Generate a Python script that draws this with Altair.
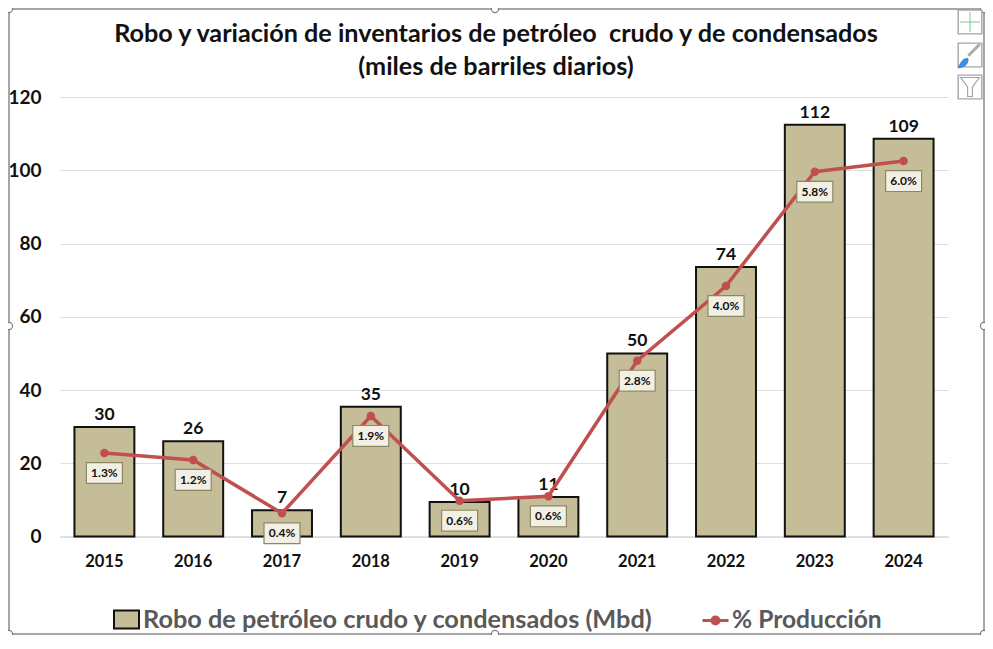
import altair as alt
import pandas as pd

years = ["2015","2016","2017","2018","2019","2020","2021","2022","2023","2024"]
robo = [29.9,26.0,7.2,35.4,9.4,10.8,50.0,73.6,112.4,108.6]
robo_labels = ["30","26","7","35","10","11","50","74","112","109"]
pct = [1.33,1.22,0.37,1.92,0.57,0.64,2.80,3.99,5.81,5.98]
pct_labels = ["1.3%","1.2%","0.4%","1.9%","0.6%","0.6%","2.8%","4.0%","5.8%","6.0%"]
title_lines = ["Robo y variación de inventarios de petróleo\u00a0 crudo y de condensados","(miles de barriles diarios)"]
bar_name = "Robo de petróleo crudo y condensados (Mbd)"
line_name = "% Producción"

FONT = "Lato"
df = pd.DataFrame({"year":years,"robo":robo,"rl":robo_labels,"pct":pct,"pl":pct_labels,"bn":bar_name,"ln":line_name})

x = alt.X("year:N", sort=years, title=None,
          scale=alt.Scale(paddingInner=0.325, paddingOuter=0.1625),
          axis=alt.Axis(labelAngle=0, labelFont=FONT, labelFontWeight="bold", labelFontSize=16.5,
                        labelColor="#111111", ticks=False, domainColor="#D9D9D9", domainWidth=1.5, labelPadding=17))
y = alt.Y("robo:Q", title=None, scale=alt.Scale(domain=[0,120]),
          axis=alt.Axis(values=[0,20,40,60,80,100,120], labelFont=FONT, labelFontWeight="bold", labelFontSize=19,
                        labelColor="#111111", ticks=False, domain=False, gridColor="#DEDEDE", gridWidth=1.2,
                        labelPadding=19))
y2 = alt.Y("pct:Q", title=None, axis=None, scale=alt.Scale(domain=[0,7]))

base = alt.Chart(df)
bars = base.mark_bar(stroke="#111111", strokeWidth=2).encode(
    x=x, y=y,
    fill=alt.Fill("bn:N", title=None, scale=alt.Scale(range=["#C4BD97"]),
                  legend=alt.Legend(orient="none", legendX=53, legendY=509, symbolType="M-1,-0.72H1V0.72H-1Z", symbolSize=625,
                                    symbolStrokeColor="#111111", symbolStrokeWidth=2, labelFont=FONT, labelFontWeight="bold",
                                    labelFontSize=25.3, labelColor="#595959", labelLimit=700, labelOffset=3)))
bar_text = base.mark_text(font=FONT, fontWeight="bold", fontSize=17.5, color="#111111", baseline="bottom", dy=-3).encode(
    x=x, y=y, text="rl:N")
left = alt.layer(bars, bar_text)

line = base.mark_line(strokeWidth=3.5, point=alt.OverlayMarkDef(filled=True, size=42, color="#C0504D")).encode(
    x=x, y=y2,
    stroke=alt.Stroke("ln:N", title=None, scale=alt.Scale(range=["#C0504D"]),
                      legend=alt.Legend(orient="none", legendX=641, legendY=509,
                                        symbolType="M-1,0H1M-0.27,0A0.27,0.27 0 1 1 0.27,0A0.27,0.27 0 1 1 -0.27,0Z",
                                        symbolStrokeWidth=3, symbolSize=676, symbolFillColor="#C0504D",
                                        labelFont=FONT, labelFontWeight="bold", labelFontSize=24.6, labelColor="#595959",
                                        labelLimit=300, labelOffset=2)))
box = base.mark_point(shape="M-1,-0.58H1V0.58H-1Z", size=1296, filled=True, fill="#F2EFE4", stroke="#8C8864",
                      strokeWidth=1.2, opacity=1, yOffset=20).encode(x=x, y=y2)
box_text = base.mark_text(font=FONT, fontWeight="bold", fontSize=12, color="#111111", dy=20).encode(x=x, y=y2, text="pl:N")
right = alt.layer(line, box, box_text)

deco_df = pd.DataFrame({"a":[0]})
deco = alt.Chart(deco_df)
FX0, FX1, FY0, FY1 = -51, 924, -88, 537
frame = deco.mark_rect(fillOpacity=0, stroke="#A6A6A6", strokeWidth=2).encode(
    x=alt.value(FX0), x2=alt.value(FX1), y=alt.value(FY0), y2=alt.value(FY1))

handles_xy = [(FX0,FY0),(435,FY0),(FX1,FY0),(FX0,229),(FX1,229),(FX0,FY1),(435,FY1),(FX1,FY1)]
handles = [deco.mark_point(shape="circle", size=50, filled=True, fill="white", stroke="#7F7F7F", strokeWidth=1.2, opacity=1)
           .encode(x=alt.value(a), y=alt.value(b)) for a,b in handles_xy]

btns = []
for cy in [-75,-42,-10]:
    btns.append(deco.mark_point(shape="square", size=560, filled=True, fill="white", stroke="#A6A6A6", strokeWidth=1.4, opacity=1)
                .encode(x=alt.value(910), y=alt.value(cy)))
plus = deco.mark_point(shape="M-1,0H1M0,-1V1", size=400, stroke="#3CB371", strokeWidth=1).encode(x=alt.value(910), y=alt.value(-75))
brush1 = deco.mark_point(shape="M-1,1L1,-1", size=130, stroke="#888888", strokeWidth=3).encode(x=alt.value(914), y=alt.value(-47))
brush2 = deco.mark_point(shape="M-1,1C-0.6,0 -0.2,-0.5 0.4,-0.4C0.7,0 0.2,1 -1,1Z", size=220, filled=True, fill="#3E8EDE", opacity=1).encode(x=alt.value(905), y=alt.value(-36))
funnel = deco.mark_point(shape="M-1,-1H1L0.25,0V1H-0.25V0Z", size=360, stroke="#777777", strokeWidth=1.1).encode(x=alt.value(910), y=alt.value(-10))

t1 = deco.mark_text(font=FONT, fontSize=25.2, fontWeight="bold", color="#111111").encode(
    x=alt.value(436), y=alt.value(-63), text=alt.value(title_lines[0]))
t2 = deco.mark_text(font=FONT, fontSize=25.2, fontWeight="bold", color="#111111").encode(
    x=alt.value(436), y=alt.value(-30), text=alt.value(title_lines[1]))

chart = alt.layer(
    alt.layer(left, right).resolve_scale(y="independent", color="independent"),
    frame, t1, t2, *handles, *btns, plus, brush1, brush2, funnel
).properties(
    width=888, height=439.5,
    autosize=alt.AutoSizeParams(type="none"),
    padding={"left":52,"top":89,"right":37,"bottom":98},
    background="white",
).configure_view(stroke=None)

chart.save("out.html", embed_options={"renderer":"svg","actions":False})
